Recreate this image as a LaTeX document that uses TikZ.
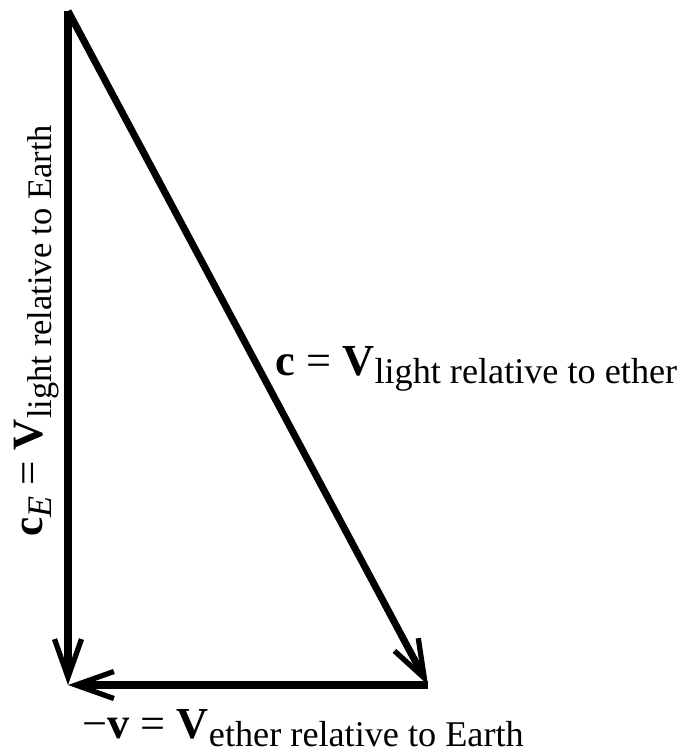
\documentclass[tikz,border=0pt]{standalone}
\usepackage{fontspec}
\setmainfont{Liberation Serif}
\usetikzlibrary{arrows.meta}

\newcommand{\vsub}[2][10.3]{\raisebox{-2.3pt}{\fontsize{#1}{12}\selectfont #2}}

\begin{document}
\begin{tikzpicture}[x=0.01cm, y=-0.01cm,
    vec/.style={line width=2pt, -{Straight Barb[length=3.8mm, width=2.7mm, line width=1.5pt]}},
    lbl/.style={inner sep=0pt, font=\fontsize{12.6}{15}\selectfont}]
  \useasboundingbox (0,0) rectangle (681,750);
  \coordinate (top) at (68,11);
  \coordinate (corner) at (68,685);
  \coordinate (right) at (428,685);
  % the three velocity vectors
  \draw[vec] (top) -- (corner);
  \draw[vec] (top) -- (right);
  \draw[vec] (right) -- (corner);
  % labels
  \node[lbl, rotate=90, anchor=base west, font=\fontsize{12.3}{15}\selectfont] (earthlbl) at (43,537)
    {\textbf{c}\vsub[9.8]{\textit{E}} = \textbf{V}\vsub[9.8]{light relative to Earth}};
  \node[lbl, anchor=base west] (etherlbl) at (275,375)
    {\textbf{c} = \textbf{V}\vsub{light relative to ether}};
  \node[lbl, anchor=base west] (vlbl) at (82,738)
    {−\textbf{v} = \textbf{V}\vsub{ether relative to Earth}};
\end{tikzpicture}
\end{document}
